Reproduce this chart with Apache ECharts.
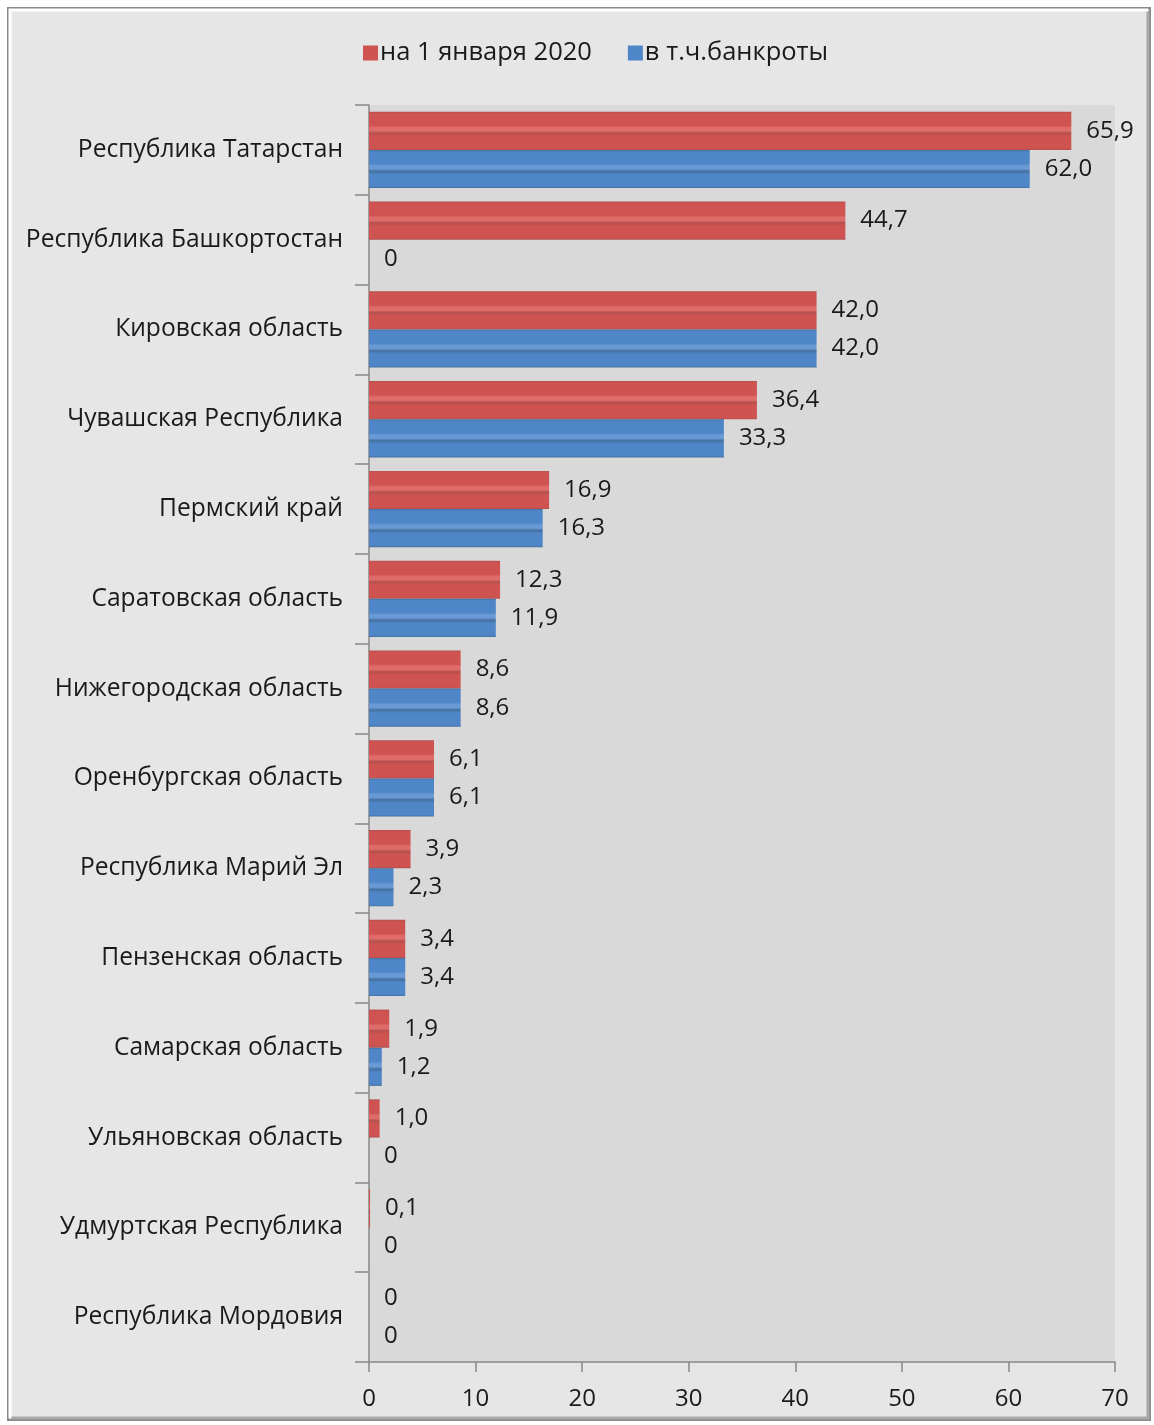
<!DOCTYPE html>
<html><head><meta charset="utf-8">
<script src="https://cdn.jsdelivr.net/npm/echarts@6/dist/echarts.min.js"></script>
<style>html,body{margin:0;padding:0;background:#fff;}#c{width:1154px;height:1425px;}</style>
</head><body><div id="c"></div>
<script>
var categories = ["Республика Татарстан","Республика Башкортостан","Кировская область","Чувашская Республика","Пермский край","Саратовская область","Нижегородская область","Оренбургская область","Республика Марий Эл","Пензенская область","Самарская область","Ульяновская область","Удмуртская Республика","Республика Мордовия"];
var seriesNames = ["на 1 января 2020","в т.ч.банкроты"];
var totalValues = [65.9,44.7,42.0,36.4,16.9,12.3,8.6,6.1,3.9,3.4,1.9,1.0,0.1,0];
var bankruptValues = [62.0,0,42.0,33.3,16.3,11.9,8.6,6.1,2.3,3.4,1.2,0,0,0];
var xTicks = [0,10,20,30,40,50,60,70];

var FONT = '"Open Sans", sans-serif';
function grad(base, light, dark){
  return new echarts.graphic.LinearGradient(0,0,0,1,[
    {offset:0,color:dark},{offset:0.05,color:base},{offset:0.36,color:base},
    {offset:0.42,color:light},{offset:0.5,color:light},{offset:0.56,color:dark},
    {offset:0.64,color:base},{offset:0.95,color:base},{offset:1,color:dark}]);
}
function fmt(p){ return p.value === 0 ? '0' : p.value.toFixed(1).replace('.', ','); }
var chart = echarts.init(document.getElementById('c'));
chart.setOption({
  animation:false,
  backgroundColor:'#ffffff',
  graphic:[
    {type:'rect',z:-10,shape:{x:8,y:8,width:1142,height:1412},style:{fill:'#e6e6e6',stroke:'#8a8a8a',lineWidth:2}},
    {type:'polyline',z:-9,shape:{points:[[1148,11],[1148,1418],[11,1418]]},style:{stroke:'#a8a8a8',lineWidth:3,fill:null}},
    {type:'polyline',z:-9,shape:{points:[[10,1418],[10,10],[1148,10]]},style:{stroke:'#ffffff',lineWidth:3,fill:null}}
  ],
  legend:{
    left:358, top:35, itemWidth:15, itemHeight:15, itemGap:36,
    textStyle:{fontFamily:FONT,fontSize:25.5,color:'#1a1a1a',padding:[0,0,0,-3]},
    data:[{name:seriesNames[0],icon:'rect',itemStyle:{color:'#cf5351'}},{name:seriesNames[1],icon:'rect',itemStyle:{color:'#4f86c8'}}]
  },
  grid:{left:369,right:39,top:105,bottom:63,show:true,backgroundColor:'#d9d9d9',borderWidth:0},
  xAxis:{
    type:'value',min:0,max:70,interval:10,
    axisLine:{show:true,lineStyle:{color:'#888888',width:1.5}},
    axisTick:{show:true,length:10,lineStyle:{color:'#888888',width:1.5}},
    splitLine:{show:false},
    axisLabel:{fontFamily:FONT,fontSize:24,color:'#1a1a1a',margin:25,
      formatter:function(v){return xTicks.indexOf(v)>=0?String(v):'';}}
  },
  yAxis:{
    type:'category',inverse:true,data:categories,
    axisLine:{show:true,lineStyle:{color:'#888888',width:1.5}},
    axisTick:{show:true,length:14,lineStyle:{color:'#888888',width:1.5}},
    axisLabel:{fontFamily:FONT,fontSize:24.6,color:'#1a1a1a',margin:26}
  },
  series:[
    {name:seriesNames[0],type:'bar',data:totalValues,barGap:'0%',barCategoryGap:'15%',
     itemStyle:{color:grad('#cf5351','#e06c69','#b3504e'),borderWidth:0},
     label:{show:true,position:'right',distance:15,fontFamily:FONT,fontSize:24,color:'#1a1a1a',formatter:fmt}},
    {name:seriesNames[1],type:'bar',data:bankruptValues,
     itemStyle:{color:grad('#4f86c8','#6a9ad6','#44709f'),borderWidth:0},
     label:{show:true,position:'right',distance:15,fontFamily:FONT,fontSize:24,color:'#1a1a1a',formatter:fmt}}
  ]
});
</script></body></html>
